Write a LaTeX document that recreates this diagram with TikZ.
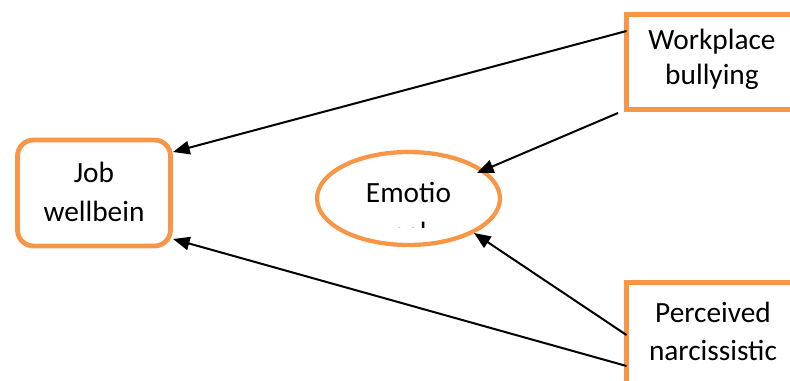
\documentclass[tikz,border=0pt]{standalone}
\usepackage{fontspec}
\setmainfont{Carlito}
\usetikzlibrary{arrows.meta,shapes.geometric,calc}
\definecolor{borange}{RGB}{247,150,70}
\tikzset{
  px/.style={x=0.75pt,y=-0.75pt},
  orangebox/.style={draw=borange,line width=3.6pt,inner sep=0pt,outer sep=0pt,fill=white},
  txt/.style={font=\fontsize{22}{27}\selectfont,anchor=base,inner sep=0pt},
  conn/.style={line width=1.5pt,-{Triangle[length=12.5pt,width=10pt]}}
}
\begin{document}
\begin{tikzpicture}[px]
\path[use as bounding box] (0,0) rectangle (790,381);
\clip (0,0) rectangle (790,381);
% nodes
\node[orangebox,rounded corners=12pt,minimum width=114.75pt,minimum height=79.5pt] (job) at (94,193) {};
\node[txt] (jobt1) at (94,183) {Job};
\node[txt] (jobt2) at (94,222) {wellbein};
\node[orangebox,ellipse,minimum width=137.25pt,minimum height=69.75pt,line width=3.2pt] (emo) at (408.5,198.5) {};
\node[txt] (emot1) at (408.5,203) {Emotio};
\begin{scope}
\clip (300,150) rectangle (520,227.5);
\node[txt] (emot2) at (408.5,243) {nal};
\end{scope}
\node[orangebox,minimum width=128.25pt,minimum height=71.25pt] (wb) at (712,62) {};
\node[txt] (wbt1) at (712,50) {Workplace};
\node[txt] (wbt2) at (712,85) {bullying};
\node[orangebox,minimum width=128.25pt,minimum height=90pt] (pp) at (712,342.5) {};
\node[txt] (ppt1) at (713,323) {Perceived};
\node[txt] (ppt2) at (713,360) {narcissistic};
% connectors
\draw[conn] ($(wb.west)+(0,-31)$) -- ($(job.east)+(2.5,-41)$);
\draw[conn] ($(wb.south west)+(-8.5,3.5)$) -- ($(emo.center)+(68.5,-25.5)$);
\draw[conn] ($(pp.west)+(0,-7.5)$) -- ($(emo.center)+(65.5,34.5)$);
\draw[conn] ($(pp.west)+(0,23.5)$) -- ($(job.east)+(2.5,46)$);
\end{tikzpicture}
\end{document}
